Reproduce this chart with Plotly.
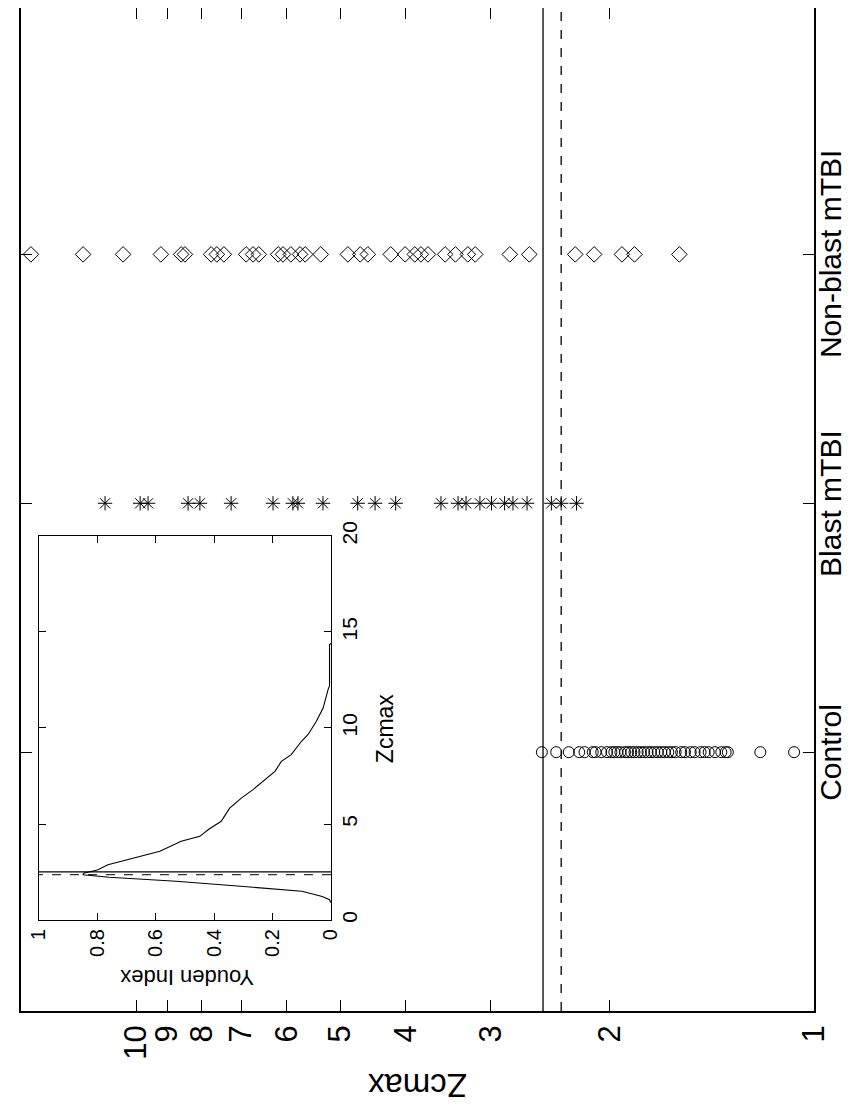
import math
import plotly.graph_objects as go

# ---------------- data ----------------
categories = ["Control", "Blast mTBI", "Non-blast mTBI"]
category_pos = [1, 2, 3]

control_z = [2.52, 2.40, 2.30, 2.22, 2.18, 2.12, 2.10, 2.06, 2.02, 1.99, 1.97,
             1.95, 1.93, 1.90, 1.88, 1.86, 1.84, 1.82, 1.80, 1.78, 1.76, 1.74,
             1.72, 1.70, 1.68, 1.66, 1.64, 1.62, 1.60, 1.57, 1.55, 1.52, 1.50,
             1.47, 1.45, 1.43, 1.40, 1.37, 1.35, 1.34, 1.20, 1.07]

blast_z = [11.11, 9.86, 9.60, 8.38, 8.05, 7.24, 6.28, 5.87, 5.77, 5.30, 4.71,
           4.44, 4.14, 3.55, 3.35, 3.26, 3.11, 2.99, 2.86, 2.78, 2.65, 2.44,
           2.36, 2.24]

nonblast_z = [14.29, 11.97, 10.45, 9.19, 8.58, 8.47, 7.75, 7.60, 7.42, 6.88,
              6.72, 6.59, 6.17, 6.07, 5.91, 5.73, 5.63, 5.34, 4.87, 4.67, 4.55,
              4.21, 4.01, 3.88, 3.80, 3.71, 3.50, 3.38, 3.24, 3.16, 2.81, 2.63,
              2.25, 2.11, 1.92, 1.84, 1.58]

cutoff_solid = 2.51
cutoff_dashed = 2.36

# Youden index curve (inset)
youden_z = [0.90, 1.06, 1.23, 1.50, 1.76, 2.02, 2.23, 2.36, 2.45, 2.60, 2.88,
            3.32, 3.58, 4.10, 4.36, 4.70, 5.14, 5.83, 6.35, 6.79, 7.31, 7.74,
            8.26, 8.61, 9.31, 9.65, 10.35, 11.04, 12.00, 12.20, 14.34, 14.40]
youden_j = [0.000, 0.005, 0.030, 0.100, 0.310, 0.530, 0.760, 0.850, 0.845,
            0.800, 0.764, 0.650, 0.586, 0.513, 0.449, 0.421, 0.376, 0.347,
            0.307, 0.267, 0.227, 0.192, 0.170, 0.136, 0.101, 0.079, 0.050,
            0.027, 0.010, 0.005, 0.005, 0.000]

zc_ticks = [1, 2, 3, 4, 5, 6, 7, 8, 9, 10]
zc_ticktext = [str(t) for t in zc_ticks]
youden_ticks = [0, 0.2, 0.4, 0.6, 0.8, 1]
youden_ticktext = ["0", "0.2", "0.4", "0.6", "0.8", "1"]
inset_z_ticks = [0, 5, 10, 15, 20]

ZC_MAX = 14.78
Y_RANGE = [-0.04, 3.99]

FONT = "Liberation Sans, Arial, Helvetica, sans-serif"
BLACK = "black"

fig = go.Figure()

mk_line = dict(color=BLACK, width=1)
fig.add_trace(go.Scatter(x=control_z, y=[category_pos[0]] * len(control_z),
                         mode="markers", xaxis="x", yaxis="y",
                         marker=dict(symbol="circle-open", size=11, color=BLACK, line=mk_line)))
fig.add_trace(go.Scatter(x=blast_z, y=[category_pos[1]] * len(blast_z),
                         mode="markers", xaxis="x", yaxis="y",
                         marker=dict(symbol="asterisk-open", size=12, color=BLACK, line=mk_line)))
fig.add_trace(go.Scatter(x=nonblast_z, y=[category_pos[2]] * len(nonblast_z),
                         mode="markers", xaxis="x", yaxis="y",
                         marker=dict(symbol="diamond-open", size=12, color=BLACK, line=mk_line)))

# cutoff lines in main plot
fig.add_trace(go.Scatter(x=[cutoff_solid, cutoff_solid], y=Y_RANGE, mode="lines",
                         xaxis="x", yaxis="y", line=dict(color=BLACK, width=1.3)))
fig.add_trace(go.Scatter(x=[cutoff_dashed, cutoff_dashed], y=Y_RANGE, mode="lines",
                         xaxis="x", yaxis="y", line=dict(color=BLACK, width=1.3, dash="dash")))

# invisible trace to carry the top tick axis
fig.add_trace(go.Scatter(x=[2], y=[2], mode="markers", xaxis="x3", yaxis="y",
                         marker=dict(opacity=0), hoverinfo="skip"))

# inset
fig.add_trace(go.Scatter(x=youden_j, y=youden_z, mode="lines", xaxis="x2", yaxis="y2",
                         line=dict(color=BLACK, width=1.1)))
fig.add_trace(go.Scatter(x=[0, 1], y=[cutoff_solid, cutoff_solid], mode="lines",
                         xaxis="x2", yaxis="y2", line=dict(color=BLACK, width=1.1)))
fig.add_trace(go.Scatter(x=[0, 1], y=[cutoff_dashed, cutoff_dashed], mode="lines",
                         xaxis="x2", yaxis="y2", line=dict(color=BLACK, width=1.0, dash="dash")))

axis_common = dict(showgrid=False, zeroline=False, showline=True, linecolor=BLACK,
                   ticks="inside", tickcolor=BLACK)

annotations = [
    dict(text="Zcmax", x=0.5, y=-0.0748, xref="paper", yref="paper",
         textangle=180, showarrow=False, font=dict(size=33),
         xanchor="center", yanchor="middle"),
    dict(text="Youden Index", x=0.2093, y=0.0329, xref="paper", yref="paper",
         textangle=180, showarrow=False, font=dict(size=22),
         xanchor="center", yanchor="middle"),
    dict(text="Zcmax", x=0.459, y=0.282, xref="paper", yref="paper",
         textangle=-90, showarrow=False, font=dict(size=23),
         xanchor="center", yanchor="middle"),
]
# category labels (rotated, right of the frame)
for name, pos in zip(categories, category_pos):
    annotations.append(dict(text=name, x=1.021, y=pos, xref="paper", yref="y",
                            textangle=-90, showarrow=False, font=dict(size=30),
                            xanchor="center", yanchor="middle", borderpad=0))

fig.update_layout(
    width=851, height=1106,
    margin=dict(l=13, r=45, t=0, b=103, autoexpand=False),
    paper_bgcolor="white", plot_bgcolor="white",
    showlegend=False,
    font=dict(family=FONT, color=BLACK),
    xaxis=dict(**axis_common, type="log", range=[math.log10(ZC_MAX), 0],
               tickvals=zc_ticks, ticktext=zc_ticktext, tickangle=-90,
               ticklen=11, tickwidth=1.2, linewidth=1.5,
               tickfont=dict(size=31), anchor="y", domain=[0, 1]),
    xaxis3=dict(type="log", range=[math.log10(ZC_MAX), 0], overlaying="x", side="top",
                anchor="y", tickvals=zc_ticks, ticks="inside", ticklen=11, tickwidth=1.2,
                tickcolor=BLACK, showticklabels=False, showline=False, showgrid=False,
                zeroline=False),
    yaxis=dict(**axis_common, range=Y_RANGE, tickvals=category_pos, showticklabels=False,
               side="right", ticklen=11, tickwidth=1.2, linewidth=1.5,
               mirror="ticks", anchor="x", domain=[0, 1]),
    xaxis2=dict(**axis_common, domain=[0.0227, 0.3909], anchor="y2", range=[1, 0],
                tickvals=youden_ticks, ticktext=youden_ticktext, tickangle=-90,
                ticklen=7, tickwidth=1, linewidth=1.2, mirror="ticks",
                tickfont=dict(size=20)),
    yaxis2=dict(**axis_common, domain=[0.0907, 0.4736], anchor="x2", range=[0, 20],
                side="right", tickvals=inset_z_ticks, tickangle=-90, ticklen=7,
                tickwidth=1, linewidth=1.2, mirror="ticks", tickfont=dict(size=21)),
    annotations=annotations,
)

fig.write_html("out.html")
